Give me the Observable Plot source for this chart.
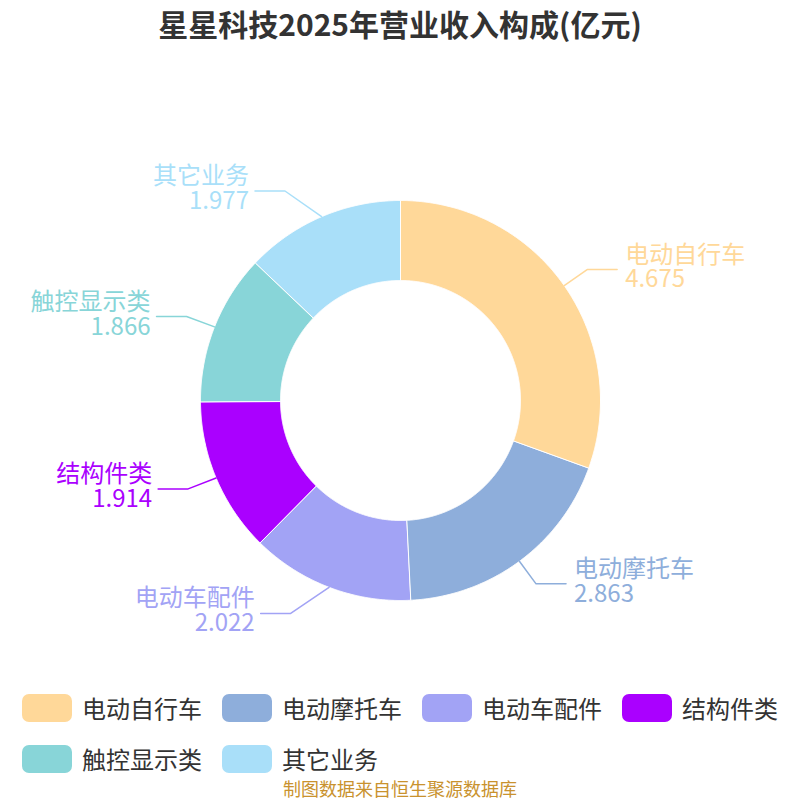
<!DOCTYPE html>
<html><head><meta charset="utf-8">
<script src="https://cdn.jsdelivr.net/npm/d3@7"></script>
<script src="https://cdn.jsdelivr.net/npm/@observablehq/plot@0.6"></script>
<style>
body{margin:0;width:800px;height:800px;background:#fff;font-family:"Noto Sans CJK SC","Noto Sans",sans-serif;overflow:hidden}
#title{height:60px;line-height:46px;text-align:center;font-weight:bold;font-size:30px;color:#333}
#chart{height:620px}
#legend{box-sizing:border-box;width:800px;padding:14px 0 0 22px;display:flex;flex-wrap:wrap;column-gap:20px;row-gap:20px;height:96px}
.item{display:flex;align-items:center;height:28px}
.sw{width:50px;height:28px;border-radius:7px;margin-right:10px}
.lt{font-size:24px;color:#333;line-height:28px}
#caption{text-align:center;font-size:18px;color:#c9922e;line-height:24px}
</style></head><body>
<div id="title">星星科技2025年营业收入构成(亿元)</div>
<div id="chart"></div>
<div id="legend"></div>
<div id="caption">制图数据来自恒生聚源数据库</div>
<script>
const categories = ["电动自行车","电动摩托车","电动车配件","结构件类","触控显示类","其它业务"];
const values = [4.675, 2.863, 2.022, 1.914, 1.866, 1.977];
const colors = ["#FFD899","#8EAEDB","#A2A3F5","#AA00FF","#88D5D8","#A9DFF9"];

const W = 800, H = 620, CY = 340;
const R = 200, R0 = 120, RA = 228, RB = 243, LEN2 = 30;
const pt = (r, a) => [r * Math.sin(a), -r * Math.cos(a)];
const arcs = d3.pie().sort(null).value(d => d)(values);

const slices = arcs.map((a, i) => {
  const n = Math.max(4, Math.ceil((a.endAngle - a.startAngle) / 0.005));
  const angs = d3.range(n + 1).map(k => a.startAngle + (a.endAngle - a.startAngle) * k / n);
  const outer = angs.map(t => pt(R, t));
  const inner = angs.map(t => pt(R0, t)).reverse();
  return {type: "Feature", properties: {name: categories[i]},
    geometry: {type: "Polygon", coordinates: [[...outer, ...inner, outer[0]]]}};
});

const lines = [];
const labels = [];
arcs.forEach((a, i) => {
  const m = (a.startAngle + a.endAngle) / 2;
  const p0 = pt(R, m);
  let p1 = pt(RA, m);
  const left = m > Math.PI;
  if (left) {
    const dy = p1[1];
    const dx = RA * Math.sqrt(Math.max(0, 1 - dy * dy / (RB * RB)));
    p1 = [-dx, dy];
  }
  const dir = left ? -1 : 1;
  const gap = left ? 6 : 8;
  const p2 = [p1[0] + dir * LEN2, p1[1]];
  [p0, p1, p2].forEach(p => lines.push({name: categories[i], x: p[0], y: p[1]}));
  labels.push({name: categories[i], text: categories[i] + "\n" + d3.format(".3f")(values[i]),
    x: p2[0] + dir * gap, y: p2[1], left});
});

const frame = {type: "MultiPoint", coordinates: [[-W / 2, -CY], [W / 2, H - CY]]};
const font = {fontSize: 24, fontFamily: "Noto Sans CJK SC", lineHeight: 1.04, dy: -2.5};
const chart = Plot.plot({
  width: W, height: H, margin: 0,
  projection: {type: "identity", domain: frame},
  color: {domain: categories, range: colors},
  marks: [
    Plot.geo(slices, {fill: d => d.properties.name, stroke: "white", strokeWidth: 1}),
    Plot.line(lines, {x: "x", y: "y", z: "name", stroke: "name", strokeWidth: 1.5, curve: "linear"}),
    Plot.text(labels.filter(d => !d.left), {x: "x", y: "y", text: "text", fill: "name", textAnchor: "start", ...font}),
    Plot.text(labels.filter(d => d.left), {x: "x", y: "y", text: "text", fill: "name", textAnchor: "end", ...font})
  ]
});
document.getElementById("chart").appendChild(chart);

const lg = document.getElementById("legend");
categories.forEach((c, i) => {
  const it = document.createElement("div"); it.className = "item";
  const sw = document.createElement("div"); sw.className = "sw"; sw.style.background = colors[i];
  const t = document.createElement("span"); t.className = "lt"; t.textContent = c;
  it.appendChild(sw); it.appendChild(t); lg.appendChild(it);
});
</script>
</body></html>
